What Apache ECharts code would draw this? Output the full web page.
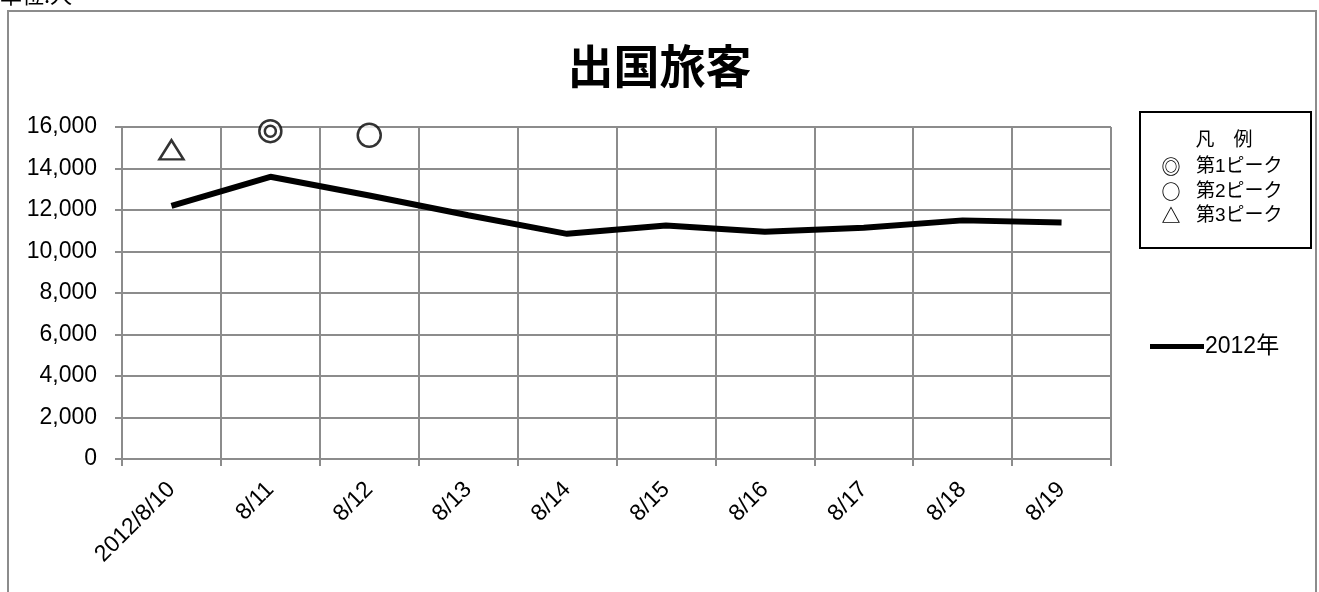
<!DOCTYPE html>
<html>
<head>
<meta charset="utf-8">
<script src="https://cdn.jsdelivr.net/npm/echarts@6/dist/echarts.min.js"></script>
<style>html,body{margin:0;padding:0;background:#fff;}#c{width:1319px;height:592px;}</style>
</head>
<body>
<div id="c"></div>
<script>
const categories = ['2012/8/10','8/11','8/12','8/13','8/14','8/15','8/16','8/17','8/18','8/19'];
const values2012 = [12200, 13600, 12700, 11750, 10850, 11250, 10950, 11150, 11500, 11400];
const peak1 = [null, 15800, null, null, null, null, null, null, null, null];
const peak2 = [null, null, 15600, null, null, null, null, null, null, null];
const peak3 = [14900, null, null, null, null, null, null, null, null, null];
const yTicks = [0, 2000, 4000, 6000, 8000, 10000, 12000, 14000, 16000];
const legendTitle = '凡　例';
const legendSymbols = ['◎', '○', '△'];
const legendLabels = ['第1ピーク', '第2ピーク', '第3ピーク'];

const chart = echarts.init(document.getElementById('c'));
const FONT = "'Liberation Sans', 'Noto Sans CJK JP', sans-serif";
const CJK = "'Noto Sans CJK JP', sans-serif";
const gridColor = '#8c8c8c';
const hollow = { color: '#fff', borderColor: '#000', borderWidth: 2.5 };
const rowsY = [167, 192, 216];

const graphics = [
  { type: 'rect', shape: { x: 8, y: 11, width: 1308, height: 600 }, style: { fill: 'none', stroke: '#8c8c8c', lineWidth: 2 }, z: -1 },
  { type: 'text', left: 0, top: -16, style: { text: '単位:人', fontSize: 22, fill: '#000', fontFamily: CJK } },
  { type: 'rect', shape: { x: 1140, y: 112, width: 171, height: 136 }, style: { fill: '#fff', stroke: '#000', lineWidth: 2 } },
  { type: 'text', x: 1224, y: 139, style: { text: legendTitle, fontSize: 19, fill: '#000', align: 'center', verticalAlign: 'middle', fontFamily: CJK } }
];
legendLabels.forEach((lab, i) => {
  graphics.push({ type: 'text', x: 1171, y: rowsY[i], style: { text: legendSymbols[i], fontSize: 19, fontWeight: 'bold', fill: '#000', align: 'center', verticalAlign: 'middle', fontFamily: CJK } });
  graphics.push({ type: 'text', x: 1196, y: rowsY[i], style: { text: lab, fontSize: 19, fill: '#000', verticalAlign: 'middle', fontFamily: FONT } });
});

chart.setOption({
  animation: false,
  textStyle: { fontFamily: FONT },
  title: {
    text: '出国旅客', left: 'center', top: 38,
    textStyle: { fontSize: 46, fontWeight: 'bold', color: '#000', fontFamily: CJK }
  },
  legend: {
    data: [{ name: '2012年', icon: 'rect' }], left: 1150, top: 335, padding: 0, itemWidth: 54, itemHeight: 5,
    textStyle: { fontSize: 23, color: '#000', fontFamily: FONT, padding: [0, 0, 0, -4] }
  },
  grid: { left: 122, right: 208, top: 127, bottom: 133 },
  xAxis: {
    type: 'category', data: categories, boundaryGap: true,
    axisLine: { lineStyle: { color: gridColor, width: 2 } },
    axisTick: { show: true, length: 7, lineStyle: { color: gridColor, width: 2 } },
    axisLabel: { rotate: 45, fontSize: 23, color: '#000', margin: 27, interval: 0, fontFamily: FONT },
    splitLine: { show: true, interval: 0, lineStyle: { color: gridColor, width: 2 } }
  },
  yAxis: {
    type: 'value', min: yTicks[0], max: yTicks[yTicks.length - 1], interval: yTicks[1] - yTicks[0],
    axisLine: { show: true, lineStyle: { color: gridColor, width: 2 } },
    axisTick: { show: true, length: 7, lineStyle: { color: gridColor, width: 2 } },
    axisLabel: { fontSize: 23, color: '#000', margin: 25, fontFamily: FONT,
      formatter: v => v.toLocaleString('en-US') },
    splitLine: { show: true, lineStyle: { color: gridColor, width: 2 } }
  },
  graphic: graphics,
  series: [
    { name: '2012年', type: 'line', data: values2012, symbol: 'none',
      lineStyle: { color: '#000', width: 6 }, itemStyle: { color: '#000' }, z: 3 },
    { name: '第1ピーク', type: 'scatter', data: peak1, symbol: 'circle', symbolSize: 22, itemStyle: hollow, z: 4 },
    { name: '第1ピーク内', type: 'scatter', data: peak1, symbol: 'circle', symbolSize: 11, itemStyle: hollow, z: 5 },
    { name: '第2ピーク', type: 'scatter', data: peak2, symbol: 'circle', symbolSize: 23, itemStyle: hollow, z: 4 },
    { name: '第3ピーク', type: 'scatter', data: peak3, symbol: 'triangle', symbolSize: [24, 19], itemStyle: hollow, z: 4 }
  ]
});
</script>
</body>
</html>
